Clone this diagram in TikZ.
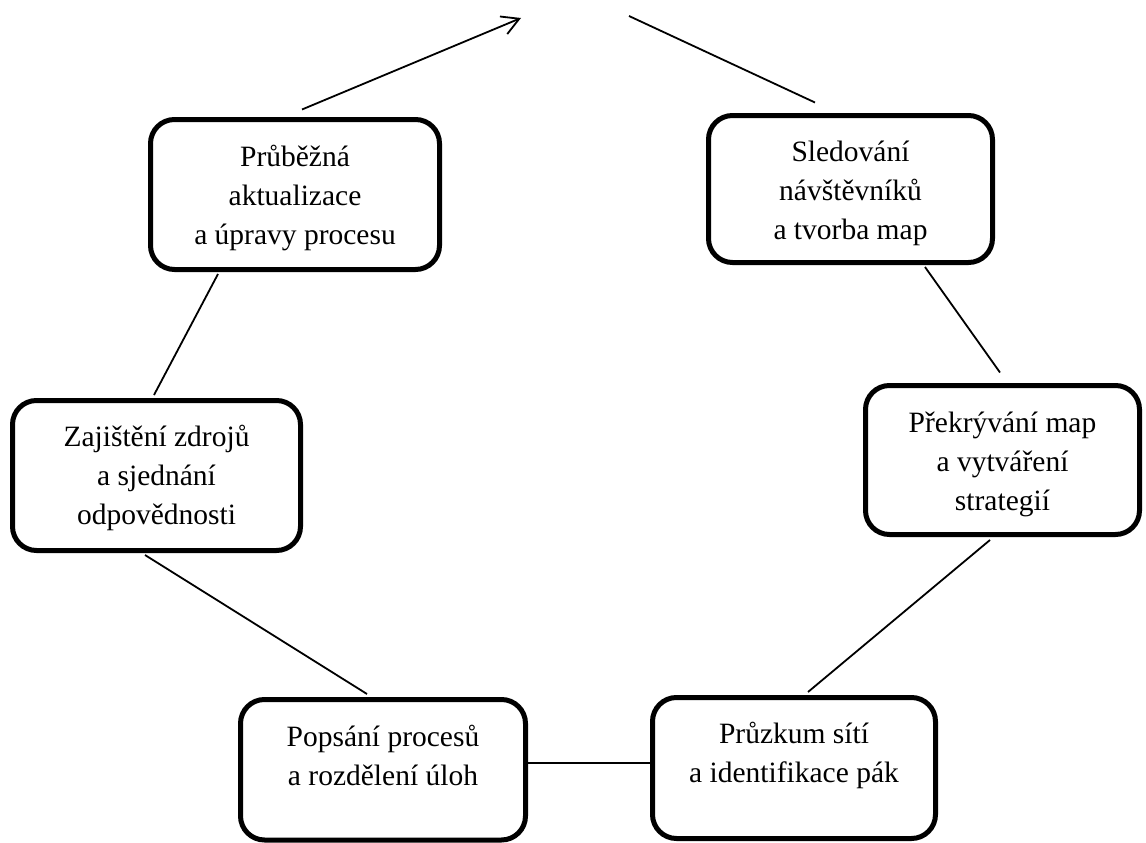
\documentclass[tikz,border=0pt]{standalone}
\usepackage{fontspec}
\setmainfont{Liberation Serif}
\usetikzlibrary{calc,arrows.meta}
\begin{document}
\begin{tikzpicture}[x=1pt,y=-1pt,
  stepbox/.style={draw=black, line width=5pt, rounded corners=24pt, fill=white, inner sep=0pt},
  boxtext/.style={anchor=north, align=center, inner sep=0pt, font=\fontsize{29.5}{39}\selectfont},
  link/.style={draw=black, line width=1.8pt},
]
\useasboundingbox (0,0) rectangle (1146,843);

% process boxes
\node[stepbox, minimum width=289pt, minimum height=150pt] (A) at (295,194.5) {};
\node[stepbox, minimum width=284pt, minimum height=147pt] (B) at (850.5,189) {};
\node[stepbox, minimum width=274pt, minimum height=149pt] (C) at (1002.5,460) {};
\node[stepbox, minimum width=288pt, minimum height=150pt] (D) at (156.5,475.5) {};
\node[stepbox, minimum width=285pt, minimum height=140.5pt] (E) at (383,769.75) {};
\node[stepbox, minimum width=283pt, minimum height=141pt] (F) at (794,768) {};

% box texts, hung from the top edge of each box
\node[boxtext] (At) at ($(A.north)+(0,22)$) {\strut Průběžná\\aktualizace\\a úpravy procesu};
\node[boxtext] (Bt) at ($(B.north)+(0,21)$) {\strut Sledování\\návštěvníků\\a tvorba map};
\node[boxtext] (Ct) at ($(C.north)+(0,22)$) {\strut Překrývání map\\a vytváření\\strategií};
\node[boxtext] (Dt) at ($(D.north)+(0,21)$) {\strut Zajištění zdrojů\\a sjednání\\odpovědnosti};
\node[boxtext] (Et) at ($(E.north)+(0,22)$) {\strut Popsání procesů\\a rozdělení úloh};
\node[boxtext] (Ft) at ($(F.north)+(0,21)$) {\strut Průzkum sítí\\a identifikace pák};

% open ends of the cycle at the top
\coordinate (ttip) at (521,18);
\coordinate (tstart) at (629,16);

% connectors
\draw[link, -{Straight Barb[length=17pt,width=19pt]}] ($(A.north)+(7,-7.5)$) -- (ttip);
\draw[link] (tstart) -- ($(B.north)+(-35.5,-10.5)$);
\draw[link] ($(B.south)+(74.5,2)$) -- ($(C.north)+(-2.5,-10.5)$);
\draw[link] ($(C.south)+(-12.5,3)$) -- ($(F.north)+(14,-3)$);
\draw[link] ($(E.east)+(0,-6.75)$) coordinate (ef) -- (ef -| F.west);
\draw[link] ($(E.north)+(-16,-3)$) -- ($(D.south)+(-11.5,2)$);
\draw[link] ($(D.north)+(-2.5,-3)$) -- ($(A.south)+(-77,2)$);
\end{tikzpicture}
\end{document}
